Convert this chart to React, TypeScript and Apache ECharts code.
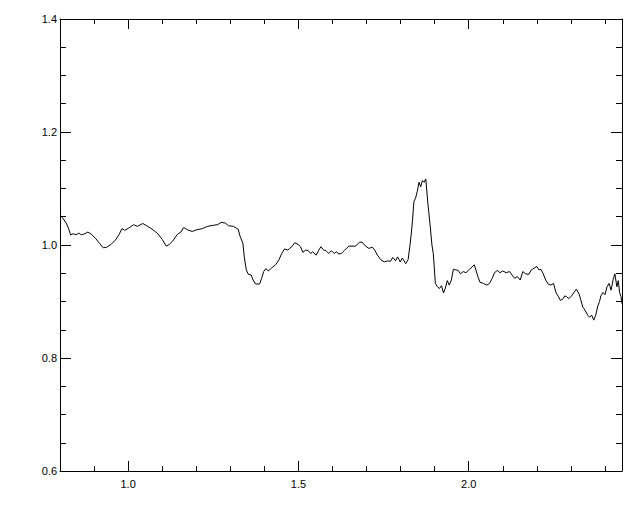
import React, { useEffect, useRef } from "react";
import * as echarts from "echarts";

const xs = [
  0.802, 0.81, 0.818, 0.826, 0.831, 0.839, 0.847, 0.855, 0.863, 0.873, 0.882, 0.892, 0.904, 0.916, 0.927, 0.937,
  0.95, 0.963, 0.973, 0.982, 0.99, 1.002, 1.016, 1.027, 1.043, 1.055, 1.073, 1.087, 1.1, 1.112, 1.121, 1.131,
  1.145, 1.155, 1.163, 1.174, 1.188, 1.202, 1.218, 1.233, 1.251, 1.263, 1.273, 1.285, 1.295, 1.309, 1.323, 1.329,
  1.337, 1.341, 1.347, 1.353, 1.361, 1.367, 1.374, 1.386, 1.392, 1.398, 1.404, 1.412, 1.42, 1.433, 1.443, 1.451,
  1.459, 1.469, 1.474, 1.481, 1.489, 1.499, 1.506, 1.513, 1.521, 1.529, 1.536, 1.542, 1.552, 1.56, 1.566, 1.574,
  1.581, 1.589, 1.597, 1.605, 1.611, 1.619, 1.626, 1.636, 1.648, 1.668, 1.679, 1.687, 1.697, 1.707, 1.717, 1.724,
  1.732, 1.742, 1.752, 1.762, 1.77, 1.777, 1.785, 1.791, 1.799, 1.805, 1.815, 1.822, 1.827, 1.831, 1.835, 1.839,
  1.844, 1.849, 1.854, 1.859, 1.864, 1.869, 1.874, 1.88, 1.886, 1.892, 1.896, 1.902, 1.908, 1.914, 1.92, 1.926,
  1.931, 1.937, 1.943, 1.949, 1.955, 1.962, 1.969, 1.976, 1.984, 1.992, 2.002, 2.01, 2.016, 2.021, 2.027, 2.033,
  2.043, 2.053, 2.061, 2.069, 2.076, 2.084, 2.092, 2.1, 2.11, 2.12, 2.127, 2.135, 2.143, 2.151, 2.159, 2.167,
  2.176, 2.184, 2.192, 2.2, 2.206, 2.212, 2.218, 2.226, 2.233, 2.241, 2.249, 2.256, 2.263, 2.269, 2.276, 2.282,
  2.288, 2.294, 2.302, 2.31, 2.316, 2.324, 2.329, 2.335, 2.341, 2.349, 2.355, 2.361, 2.367, 2.373, 2.379, 2.384,
  2.388, 2.394, 2.4, 2.406, 2.412, 2.418, 2.424, 2.429, 2.435, 2.439, 2.443, 2.447, 2.45,
];

const ys = [
  1.052, 1.046, 1.039, 1.028, 1.018, 1.02, 1.018, 1.021, 1.018, 1.02, 1.023, 1.019, 1.012, 1.003, 0.995, 0.996,
  1.001, 1.009, 1.018, 1.029, 1.026, 1.03, 1.036, 1.033, 1.038, 1.034, 1.027, 1.02, 1.01, 0.998, 1.001, 1.007,
  1.019, 1.023, 1.031, 1.027, 1.024, 1.027, 1.029, 1.033, 1.035, 1.036, 1.04, 1.039, 1.034, 1.033, 1.028, 1.015,
  1.003, 0.979, 0.956, 0.948, 0.947, 0.938, 0.931, 0.931, 0.941, 0.953, 0.958, 0.954, 0.959, 0.965, 0.974, 0.985,
  0.993, 0.991, 0.994, 0.997, 1.004, 1.001, 0.997, 0.987, 0.991, 0.99, 0.985, 0.988, 0.982, 0.991, 0.997, 0.991,
  0.99, 0.985, 0.99, 0.985, 0.988, 0.984, 0.985, 0.991, 0.998, 0.998, 1.005, 1.005, 0.998, 0.994, 0.996, 0.991,
  0.982, 0.974, 0.97, 0.972, 0.971, 0.978, 0.972, 0.979, 0.97, 0.977, 0.967, 0.974, 0.997, 1.018, 1.044, 1.077,
  1.083, 1.095, 1.111, 1.103, 1.114, 1.111, 1.117, 1.074, 1.039, 1.0, 0.985, 0.932, 0.926, 0.923, 0.928, 0.915,
  0.923, 0.937, 0.929, 0.938, 0.957, 0.956, 0.955, 0.949, 0.953, 0.951, 0.957, 0.961, 0.965, 0.956, 0.944, 0.934,
  0.932, 0.929, 0.932, 0.941, 0.951, 0.955, 0.951, 0.954, 0.951, 0.953, 0.947, 0.941, 0.944, 0.938, 0.953, 0.949,
  0.948, 0.956, 0.959, 0.962, 0.956, 0.957, 0.95, 0.938, 0.931, 0.929, 0.932, 0.916, 0.909, 0.902, 0.904, 0.91,
  0.908, 0.905, 0.91, 0.917, 0.922, 0.913, 0.903, 0.89, 0.885, 0.876, 0.872, 0.876, 0.867, 0.876, 0.892, 0.9,
  0.91, 0.916, 0.912, 0.926, 0.932, 0.92, 0.939, 0.949, 0.926, 0.937, 0.916, 0.909, 0.896,
];

const xMin = 0.8;
const xMax = 2.45;
const yMin = 0.6;
const yMax = 1.4;
const xMajorTicks = [1.0, 1.5, 2.0];
const xMinorTicks = [0.9, 1.1, 1.2, 1.3, 1.4, 1.6, 1.7, 1.8, 1.9, 2.1, 2.2, 2.3, 2.4];
const yMajorTicks = [0.6, 0.8, 1.0, 1.2, 1.4];
const yMinorTicks = [0.65, 0.7, 0.75, 0.85, 0.9, 0.95, 1.05, 1.1, 1.15, 1.25, 1.3, 1.35];

const FONT = "'Liberation Sans', Arial, sans-serif";

function makeX(position: "top" | "bottom", ticks: number[], len: number, labels: boolean, line: boolean) {
  return {
    type: "value",
    gridIndex: 0,
    position,
    min: xMin,
    max: xMax,
    axisLine: { show: line, onZero: false, lineStyle: { color: "#000", width: 1 } },
    axisTick: { show: true, inside: true, length: len, customValues: ticks, lineStyle: { color: "#000", width: 1 } },
    axisLabel: {
      show: labels,
      customValues: ticks,
      margin: 7,
      color: "#000",
      fontFamily: FONT,
      fontSize: 11,
      formatter: (v: number) => v.toFixed(1),
    },
    splitLine: { show: false },
  };
}

function makeY(position: "left" | "right", ticks: number[], len: number, labels: boolean, line: boolean) {
  return {
    type: "value",
    gridIndex: 0,
    position,
    min: yMin,
    max: yMax,
    axisLine: { show: line, onZero: false, lineStyle: { color: "#000", width: 1 } },
    axisTick: { show: true, inside: true, length: len, customValues: ticks, lineStyle: { color: "#000", width: 1 } },
    axisLabel: {
      show: labels,
      customValues: ticks,
      margin: 3,
      color: "#000",
      fontFamily: FONT,
      fontSize: 11,
      formatter: (v: number) => v.toFixed(1),
    },
    splitLine: { show: false },
  };
}

export default function App() {
  const ref = useRef<HTMLDivElement>(null);
  useEffect(() => {
    if (!ref.current) return;
    const chart = echarts.init(ref.current, undefined, { renderer: "svg" });
    const data = xs.map((x, i) => [x, ys[i]]);
    chart.setOption({
      animation: false,
      backgroundColor: "#fff",
      grid: { left: 60, top: 19, right: 18, bottom: 41, containLabel: false, outerBoundsMode: "none" },
      xAxis: [
        makeX("bottom", xMajorTicks, 10, true, true),
        makeX("bottom", xMinorTicks, 5, false, false),
        makeX("top", xMajorTicks, 10, false, true),
        makeX("top", xMinorTicks, 5, false, false),
      ],
      yAxis: [
        makeY("left", yMajorTicks, 11, true, true),
        makeY("left", yMinorTicks, 6, false, false),
        makeY("right", yMajorTicks, 11, false, true),
        makeY("right", yMinorTicks, 6, false, false),
      ],
      series: [
        {
          type: "line",
          xAxisIndex: 0,
          yAxisIndex: 0,
          data,
          showSymbol: false,
          symbol: "none",
          lineStyle: { color: "#000", width: 1 },
        },
      ],
    });
    return () => chart.dispose();
  }, []);
  return (
    <div
      ref={ref}
      style={{ position: "fixed", left: 0, top: 0, width: 640, height: 512, background: "#fff" }}
    />
  );
}
